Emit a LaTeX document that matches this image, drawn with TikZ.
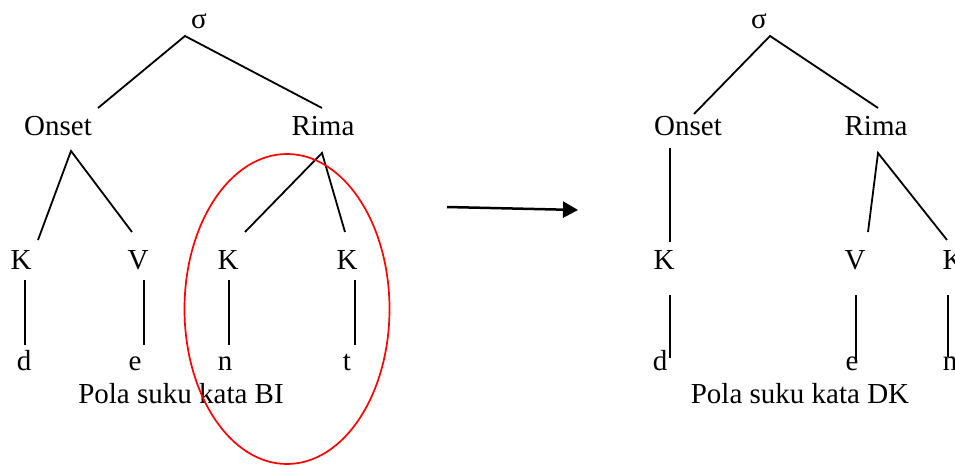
\documentclass[tikz,border=0pt]{standalone}
\usepackage{fontspec}
\setmainfont{Liberation Serif}
\usetikzlibrary{arrows.meta}
\begin{document}
\begin{tikzpicture}[x=1pt,y=-1pt,
  lbl/.style={inner sep=0pt,anchor=base,font=\fontsize{29}{32}\selectfont},
  branch/.style={line width=1.8pt},
  ring/.style={draw=red,line width=1.7pt},
  changearrow/.style={line width=2.5pt,-{Triangle[length=15pt,width=16pt]}}]
\useasboundingbox (0,0) rectangle (955,466);

% ---- left tree: Bahasa Indonesia ----
\node[lbl] (sigL) at (199,28) {σ};
\node[lbl] (onsL) at (58,135) {Onset};
\node[lbl] (rimL) at (323,135) {Rima};
\node[lbl] (k1L) at (21,269) {K};
\node[lbl] (v1L) at (138,269) {V};
\node[lbl] (k2L) at (228,269) {K};
\node[lbl] (k3L) at (347,269) {K};
\node[lbl] (dL) at (24,370) {d};
\node[lbl] (eL) at (135,370) {e};
\node[lbl] (nL) at (225,370) {n};
\node[lbl] (tL) at (347,370) {t};
\node[lbl] (capL) at (181,403) {Pola suku kata BI};

\coordinate (sigLb) at (185,36);
\coordinate (onsLt) at (98,108);
\coordinate (rimLt) at (322,108);
\coordinate (onsLb) at (71,151);
\coordinate (rimLb) at (322,153);
\coordinate (k1Lt) at (38,240);
\coordinate (v1Lt) at (132,232);
\coordinate (k2Lt) at (245,232);
\coordinate (k3Lt) at (345,232);

\draw[branch] (onsLt) -- (sigLb) -- (rimLt);
\draw[branch] (k1Lt) -- (onsLb) -- (v1Lt);
\draw[branch] (k2Lt) -- (rimLb) -- (k3Lt);
\draw[branch] (25,280) coordinate (k1Lb) -- (25,345) coordinate (dLt);
\draw[branch] (144,280) coordinate (v1Lb) -- (144,345) coordinate (eLt);
\draw[branch] (229,280) coordinate (k2Lb) -- (229,345) coordinate (nLt);
\draw[branch] (355,280) coordinate (k3Lb) -- (355,345) coordinate (tLt);

% the coda ring
\draw[ring] (287,309) ellipse [x radius=102.5, y radius=155];

% ---- arrow between the two patterns ----
\coordinate (arrA) at (447,207);
\coordinate (arrB) at (578,210);
\draw[changearrow] (arrA) -- (arrB);

% ---- right tree: Dusun Kadazan ----
\node[lbl] (sigR) at (759,28) {σ};
\node[lbl] (onsR) at (688,135) {Onset};
\node[lbl] (rimR) at (876,135) {Rima};
\node[lbl] (k1R) at (664,269) {K};
\node[lbl] (v1R) at (855,269) {V};
\node[lbl] (k2R) at (953,269) {K};
\node[lbl] (dR) at (660,370) {d};
\node[lbl] (eR) at (852,370) {e};
\node[lbl] (nR) at (950,370) {n};
\node[lbl] (capR) at (800,403) {Pola suku kata DK};

\coordinate (sigRb) at (770,36);
\coordinate (onsRt) at (694,114);
\coordinate (rimRt) at (878,108);
\coordinate (onsRb) at (670,148);
\coordinate (rimRb) at (878,153);
\coordinate (k1Rt) at (670,242);
\coordinate (v1Rt) at (868,232);
\coordinate (k2Rt) at (947,240);

\draw[branch] (onsRt) -- (sigRb) -- (rimRt);
\draw[branch] (onsRb) -- (k1Rt);
\draw[branch] (v1Rt) -- (rimRb) -- (k2Rt);
\draw[branch] (670,295) coordinate (k1Rb) -- (670,358) coordinate (dRt);
\draw[branch] (856,295) coordinate (v1Rb) -- (856,360) coordinate (eRt);
\draw[branch] (948,295) coordinate (k2Rb) -- (948,357) coordinate (nRt);
\end{tikzpicture}
\end{document}
